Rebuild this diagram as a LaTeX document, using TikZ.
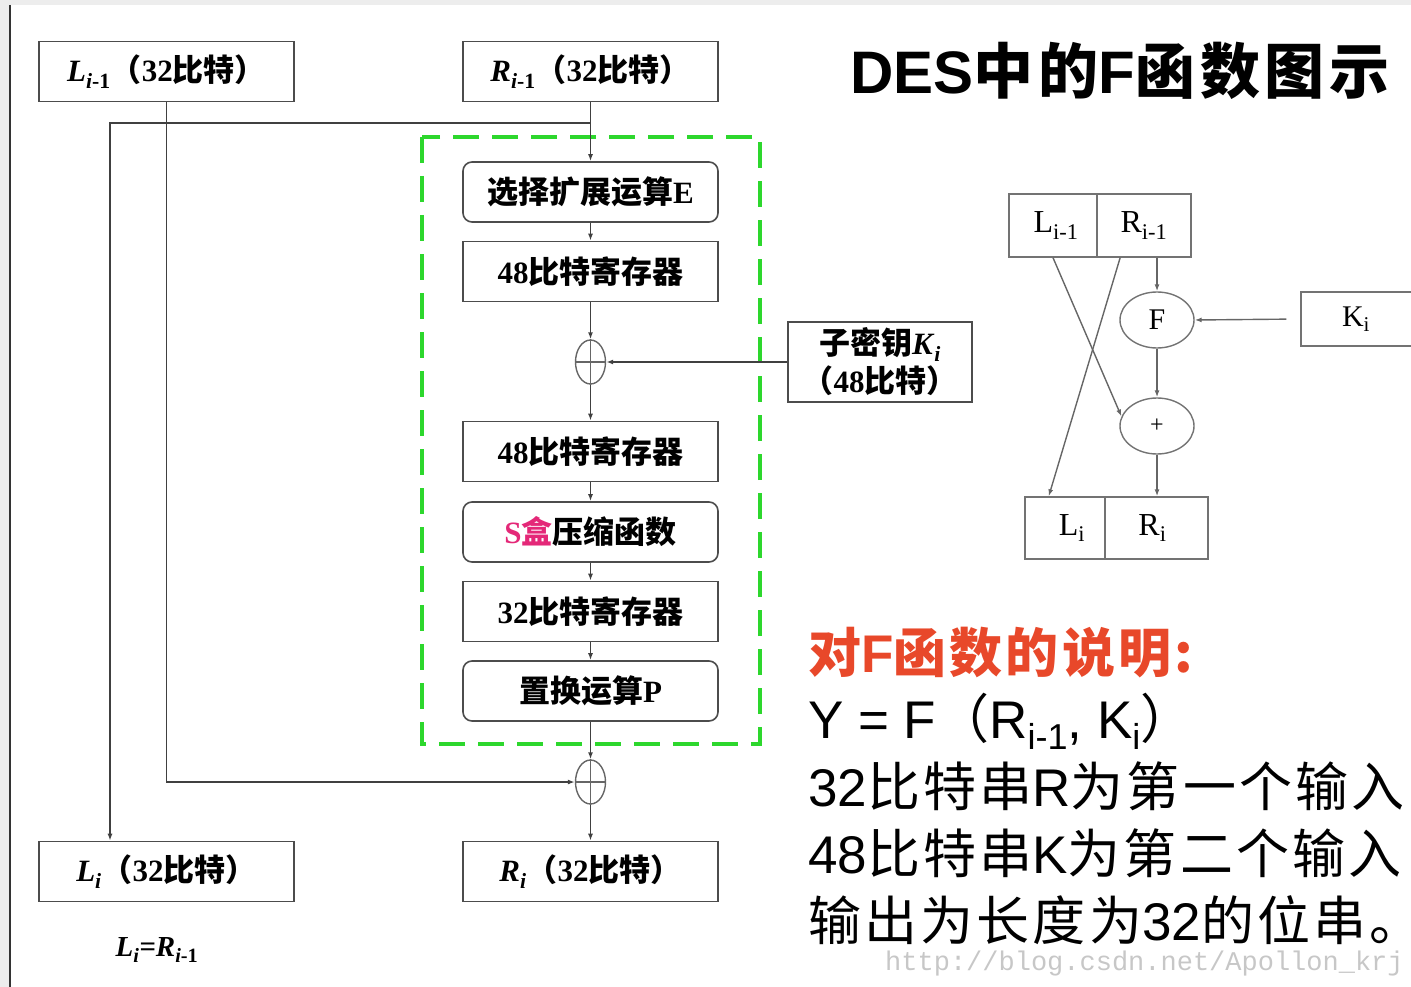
\documentclass[tikz,border=0pt]{standalone}
\usepackage{fontspec}
\setmainfont{Liberation Serif}
\newfontfamily\cjk{Noto Sans CJK SC}
\newfontfamily\cjkw{Noto Sans CJK SC}[LetterSpace=6]
\newfontfamily\cjkt{Noto Sans CJK SC}[LetterSpace=8]
\newfontfamily\ars{Liberation Sans}
\newfontfamily\mono{Liberation Mono}
\usetikzlibrary{arrows.meta,shapes.geometric,calc}
\definecolor{grn}{RGB}{45,215,45}
\definecolor{redt}{RGB}{232,72,42}
\definecolor{pinkt}{RGB}{228,40,120}
\newcommand{\zh}[1]{{\cjk #1}}
\newcommand{\zw}[1]{{\cjkw #1}}
\newcommand{\lowsub}[1]{\raisebox{-0.22em}{\fontsize{36}{40}\selectfont #1}}
\tikzset{
  bx/.style={draw=black!70, fill=white, line width=1.6pt, minimum width=255pt, minimum height=60pt, inner sep=0pt, font=\fontsize{31}{36}\selectfont\bfseries},
  rbx/.style={bx, rounded corners=9pt},
  ar/.style={draw=black!75, line width=1.4pt, -{Latex[length=7pt,width=5pt]}},
  xo/.style={ellipse, draw=black!60, line width=1.4pt, minimum width=30pt, minimum height=44pt, inner sep=0pt},
  xoline/.style={draw=black!60, line width=1.4pt},
  gdash/.style={draw=grn, line width=4pt, dash pattern=on 26pt off 13pt},
  sbx/.style={draw=black!55, line width=1.4pt, inner sep=0pt, minimum height=63pt, font=\fontsize{32}{36}\selectfont},
  ell/.style={ellipse, draw=black!55, line width=1.4pt, minimum width=74pt, minimum height=56pt, inner sep=0pt, font=\fontsize{30}{36}\selectfont},
  sar/.style={draw=black!60, line width=1.4pt, -{Latex[length=7pt,width=5pt]}},
  txt/.style={anchor=base west, inner sep=0pt, font=\fontsize{53}{60}\selectfont}
}
\begin{document}
\begin{tikzpicture}[x=1pt,y=-1pt]
\useasboundingbox (0,0) rectangle (1411,987);
\fill[black!7] (0,0) rectangle (1411,5);
\fill[black!7] (0,0) rectangle (9,987);
\draw[line width=2pt, black!80] (10,5) -- (10,987);

% green dashed frame
\draw[gdash] (422,137) rectangle (760,744);

% left diagram
\node[bx] (Lim1) at (166.5,71.5) {\textit{L}\textsubscript{\textit{i}-1}\zh{（}32\zh{比特）}};
\node[bx] (Rim1) at (590.5,71.5) {\textit{R}\textsubscript{\textit{i}-1}\zh{（}32\zh{比特）}};
\node[rbx] (E) at (590.5,192) {\zh{选择扩展运算}E};
\node[bx] (r48a) at (590.5,271.5) {48\zh{比特寄存器}};
\node[xo] (x1) at (590.5,362) {};
\node[bx, minimum width=184pt, minimum height=80pt, align=center, font=\fontsize{31}{38}\selectfont\bfseries] (K) at (880,362) {\zh{子密钥}\textit{K}\textsubscript{\textit{i}}\\\zh{（}48\zh{比特）}};
\node[bx] (r48b) at (590.5,451.5) {48\zh{比特寄存器}};
\node[rbx] (S) at (590.5,532) {\textcolor{pinkt}{S\zh{盒}}\zh{压缩函数}};
\node[bx] (r32) at (590.5,611.5) {32\zh{比特寄存器}};
\node[rbx] (P) at (590.5,691) {\zh{置换运算}P};
\node[xo] (x2) at (590.5,782) {};
\node[bx] (Li) at (166.5,871.5) {\textit{L}\textsubscript{\textit{i}}\zh{（}32\zh{比特）}};
\node[bx] (Ri) at (590.5,871.5) {\textit{R}\textsubscript{\textit{i}}\zh{（}32\zh{比特）}};
\node[font=\fontsize{29}{32}\selectfont\bfseries\itshape, inner sep=0pt] (eq) at (157,950) {L\textsubscript{i}=R\textsubscript{i\upshape -1}};

\draw[xoline] (x1.north) -- (x1.south) (x1.west) -- (x1.east);
\draw[xoline] (x2.north) -- (x2.south) (x2.west) -- (x2.east);

\coordinate (br) at (590.5,123);
\coordinate (lc) at (110,123);
\draw[ar] (Rim1.south) -- (E.north);
\draw[ar] (br) -- (lc) -- (Li.north -| lc);
\draw[ar] (Lim1.south) |- (x2.west);
\draw[ar] (E.south) -- (r48a.north);
\draw[ar] (r48a.south) -- (x1.north);
\draw[ar] (K.west) -- (x1.east);
\draw[ar] (x1.south) -- (r48b.north);
\draw[ar] (r48b.south) -- (S.north);
\draw[ar] (S.south) -- (r32.north);
\draw[ar] (r32.south) -- (P.north);
\draw[ar] (P.south) -- (x2.north);
\draw[ar] (x2.south) -- (Ri.north);

% title
\node[anchor=base, inner sep=0pt, font=\fontsize{60}{64}\selectfont\bfseries] (title) at (1120,94) {{\ars DES}{\cjkt 中的}{\ars F}{\cjkt 函数图示}};

% right diagram
\node[sbx, minimum width=88pt] (tL) at (1053,225.5) {\hspace*{6pt}L\textsubscript{i-1}};
\node[sbx, minimum width=94pt] (tR) at (1144,225.5) {R\textsubscript{i-1}};
\node[ell] (F) at (1157,320) {F};
\node[ell] (pl) at (1157,426) {\fontsize{24}{28}\selectfont +};
\node[sbx, minimum width=80pt, minimum height=62pt] (bL) at (1065,528) {\hspace*{14pt}L\textsubscript{i}};
\node[sbx, minimum width=103pt, minimum height=62pt] (bR) at (1156.5,528) {R\textsubscript{i}\hspace*{8pt}};
\node[sbx, minimum width=122pt, minimum height=54pt, font=\fontsize{30}{34}\selectfont] (Ki) at (1362,319) {K\textsubscript{i}\hspace*{12pt}};

\draw[sar] (tR.south -| F.north) -- (F.north);
\draw[sar] (F.south) -- (pl.north);
\draw[sar] (pl.south) -- (bR.north -| pl.south);
\draw[sar] (tL.south) -- (pl.165);
\draw[sar] ($(tR.south west)!0.25!(tR.south east)$) -- ($(bL.north west)!0.3!(bL.north east)$);
\draw[sar, shorten <=14pt] (Ki.west) -- (F.east);

% explanation text
\node[txt, text=redt] (t1) at (808,672) {\zw{\bfseries 对}{\ars\bfseries F}\zw{\bfseries 函数的说明:}};
\node[txt] (t2) at (808,738) {{\ars Y = F}\zw{（}{\ars R\lowsub{i-1}, K\lowsub{i}}\zw{）}};
\node[txt] (t3) at (808,806) {{\ars 32}\zw{比特串}{\ars R}\zw{为第一个输入}};
\node[txt] (t4) at (808,873) {{\ars 48}\zw{比特串}{\ars K}\zw{为第二个输入}};
\node[txt] (t5) at (808,940) {\zw{输出为长度为}{\ars 32}\zw{的位串。}};
\node[anchor=base west, inner sep=0pt, text=black!22, font=\mono\fontsize{27}{30}\selectfont] (wm) at (885,970) {http://blog.csdn.net/Apollon\_krj};
\end{tikzpicture}
\end{document}
